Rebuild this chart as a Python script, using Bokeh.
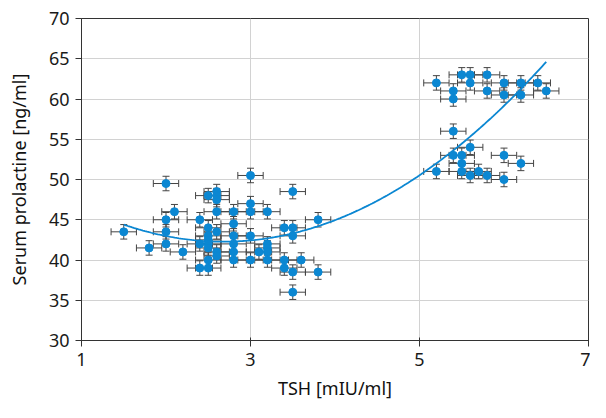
import numpy as np
from bokeh.plotting import figure
from bokeh.models import ColumnDataSource, Whisker, TeeHead, FixedTicker
from bokeh.embed import file_html
from bokeh.resources import INLINE

# --- data ---
tsh = [1.5, 1.8, 2.0, 2.0, 2.0, 2.0, 2.1, 2.2,
       2.4, 2.4, 2.4,
       2.5, 2.5, 2.5, 2.5, 2.5, 2.5, 2.5, 2.5,
       2.6, 2.6, 2.6, 2.6, 2.6, 2.6, 2.6,
       2.8, 2.8, 2.8, 2.8, 2.8, 2.8,
       3.0, 3.0, 3.0, 3.0, 3.0,
       3.1, 3.2, 3.2, 3.2, 3.2, 3.2,
       3.4, 3.4, 3.4,
       3.5, 3.5, 3.5, 3.5, 3.5,
       3.6, 3.8, 3.8,
       5.2, 5.4, 5.4, 5.5, 5.6, 5.6, 5.8, 5.8, 6.0, 6.0, 6.2, 6.2, 6.4, 6.5,
       5.2, 5.4, 5.4, 5.5, 5.5, 5.5, 5.6, 5.6, 5.7, 5.8, 6.0, 6.0, 6.2]
prolactin = [43.5, 41.5, 49.5, 45, 43.5, 42, 46, 41,
             45, 42, 39,
             48, 44, 43, 42.5, 42, 41.5, 40, 39,
             48.5, 48, 47.5, 46, 43.5, 41, 40.5,
             46, 44.5, 43, 42, 41, 40,
             50.5, 47, 46, 43, 40,
             41, 46, 42, 41.5, 41, 40,
             44, 40, 39,
             48.5, 44, 43, 38.5, 36,
             40, 45, 38.5,
             62, 61, 60, 63, 63, 62, 63, 61, 62, 60.5, 62, 60.5, 62, 61,
             51, 56, 53, 53, 52, 51, 54, 50.5, 51, 50.5, 53, 50, 52]
tsh_err = 0.15
prl_err = 0.9

# quadratic trend line: y = a*x^2 + b*x + c
trend_coef = [1.529, -8.188, 53.24]
trend_range = [1.5, 6.5]

x_ticks = [1, 3, 5, 7]
y_ticks = [30, 35, 40, 45, 50, 55, 60, 65, 70]

BLUE = "#0b87d2"
ERR = "#444444"
FONT = "Noto Sans"

tsh_a = np.array(tsh, dtype=float)
prl_a = np.array(prolactin, dtype=float)
src = ColumnDataSource(dict(
    x=tsh_a, y=prl_a,
    xl=tsh_a - tsh_err, xu=tsh_a + tsh_err,
    yl=prl_a - prl_err, yu=prl_a + prl_err,
))

p = figure(width=590, height=402, x_range=(1, 7), y_range=(30, 70),
           output_backend="svg", toolbar_location=None,
           min_border_left=81, min_border_right=2,
           min_border_top=18, min_border_bottom=62)

p.outline_line_color = "#333333"
p.outline_line_width = 1
p.background_fill_color = "white"
p.border_fill_color = "white"

p.xgrid.grid_line_color = "#d2d2d2"
p.ygrid.grid_line_color = "#d2d2d2"
p.xaxis.ticker = FixedTicker(ticks=x_ticks)
p.yaxis.ticker = FixedTicker(ticks=y_ticks)

for ax in (p.xaxis[0], p.yaxis[0]):
    ax.axis_line_color = "#333333"
    ax.major_tick_line_color = "#333333"
    ax.minor_tick_line_color = None
    ax.major_label_text_font = FONT
    ax.major_label_text_font_size = "18px"
    ax.major_label_text_color = "#1a1a1a"
    ax.axis_label_text_font = FONT
    ax.axis_label_text_font_size = "18px"
    ax.axis_label_text_font_style = "normal"
    ax.axis_label_text_color = "#111111"

p.xaxis.major_tick_in = 3
p.xaxis.major_tick_out = 6
p.yaxis.major_tick_in = 0
p.yaxis.major_tick_out = 6
p.xaxis.major_label_standoff = 6
p.yaxis.major_label_standoff = 6
p.xaxis.axis_label = "TSH [mIU/ml]"
p.yaxis.axis_label = "Serum prolactine [ng/ml]"
p.xaxis.axis_label_standoff = 7
p.yaxis.axis_label_standoff = 15

# error bars
wx = Whisker(source=src, base="y", lower="xl", upper="xu", dimension="width",
             line_color=ERR, line_width=1,
             lower_head=TeeHead(size=7, line_color=ERR, line_width=1),
             upper_head=TeeHead(size=7, line_color=ERR, line_width=1))
wy = Whisker(source=src, base="x", lower="yl", upper="yu", dimension="height",
             line_color=ERR, line_width=1,
             lower_head=TeeHead(size=7, line_color=ERR, line_width=1),
             upper_head=TeeHead(size=7, line_color=ERR, line_width=1))
p.add_layout(wx)
p.add_layout(wy)

# trend line
cx = np.linspace(trend_range[0], trend_range[1], 200)
cy = np.polyval(trend_coef, cx)
p.line(cx, cy, line_color=BLUE, line_width=1.8)

p.scatter("x", "y", source=src, size=8, fill_color=BLUE, line_color=BLUE)

open("out.html", "w").write(file_html(p, INLINE))
